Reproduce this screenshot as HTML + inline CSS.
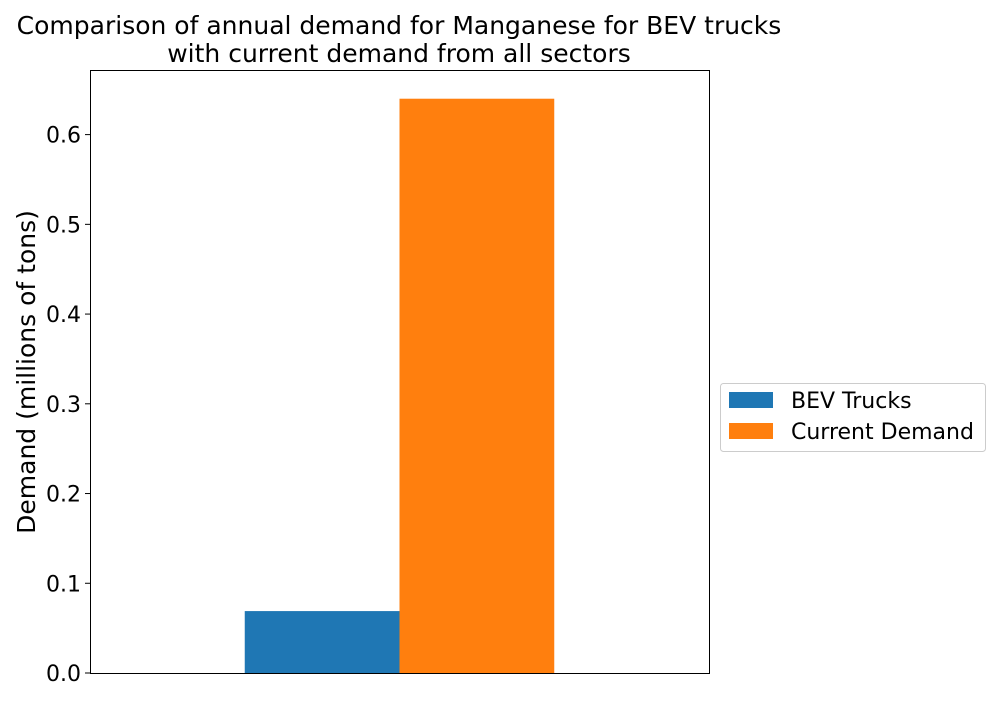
<!DOCTYPE html>
<html><head><meta charset="utf-8"><style>
body{margin:0;background:#fff;}
svg text{font-family:"DejaVu Sans","Liberation Sans",sans-serif;fill:#000;}
</style></head><body>
<svg id="chart" width="1000" height="700" xmlns="http://www.w3.org/2000/svg">
<text x="399" y="34" font-size="25" text-anchor="middle">Comparison of annual demand for Manganese for BEV trucks</text>
<text x="399" y="62" font-size="25" text-anchor="middle">with current demand from all sectors</text>
<g id="bars"></g>
<g id="yaxis"></g>
<rect x="90.5" y="70.5" width="619" height="603" fill="none" stroke="#000" stroke-width="1"/>
<text transform="translate(35,372) rotate(-90)" font-size="25" text-anchor="middle">Demand (millions of tons)</text>
<g>
<rect x="720.5" y="383.5" width="265" height="68" rx="3" fill="#fff" stroke="#ccc"/>
<rect x="729" y="392" width="44" height="16" fill="#1f77b4"/>
<text x="791" y="408" font-size="22">BEV Trucks</text>
<rect x="729" y="423" width="44" height="16" fill="#ff7f0e"/>
<text x="791" y="439" font-size="22">Current Demand</text>
</g>
</svg>
<script>
const seriesNames = ["BEV Trucks", "Current Demand"];
const seriesValues = [0.069, 0.64];
const seriesColors = ["#1f77b4", "#ff7f0e"];
const yTicks = [0, 0.1, 0.2, 0.3, 0.4, 0.5, 0.6];
const yTickLabels = ["0.0", "0.1", "0.2", "0.3", "0.4", "0.5", "0.6"];

const NS = "http://www.w3.org/2000/svg";
const plotLeft = 90, plotRight = 709, plotTop = 70, plotBottom = 673;
const yMax = 0.672;
function yScale(v){ return plotBottom - v / yMax * (plotBottom - plotTop); }
function xScale(v){ return plotLeft + (v + 0.5) * (plotRight - plotLeft); }
const barW = 0.25;

const bars = document.getElementById("bars");
seriesValues.forEach((v, i) => {
  const r = document.createElementNS(NS, "rect");
  const x0 = xScale(-barW + i * barW);
  const x1 = xScale(i * barW);
  r.setAttribute("x", x0);
  r.setAttribute("width", x1 - x0);
  r.setAttribute("y", yScale(v));
  r.setAttribute("height", yScale(0) - yScale(v));
  r.setAttribute("fill", seriesColors[i]);
  
  
  bars.appendChild(r);
});

const ya = document.getElementById("yaxis");
yTicks.forEach((t, i) => {
  const l = document.createElementNS(NS, "line");
  l.setAttribute("x1", plotLeft - 5); l.setAttribute("x2", plotLeft);
  l.setAttribute("y1", yScale(t)); l.setAttribute("y2", yScale(t));
  l.setAttribute("stroke", "#000");
  
  
  ya.appendChild(l);
  const tx = document.createElementNS(NS, "text");
  tx.setAttribute("x", plotLeft - 9);
  tx.setAttribute("y", yScale(t) + 8);
  tx.setAttribute("font-size", "22");
  tx.setAttribute("text-anchor", "end");
  tx.textContent = yTickLabels[i];
  
  
  ya.appendChild(tx);
});
</script>
</body></html>
